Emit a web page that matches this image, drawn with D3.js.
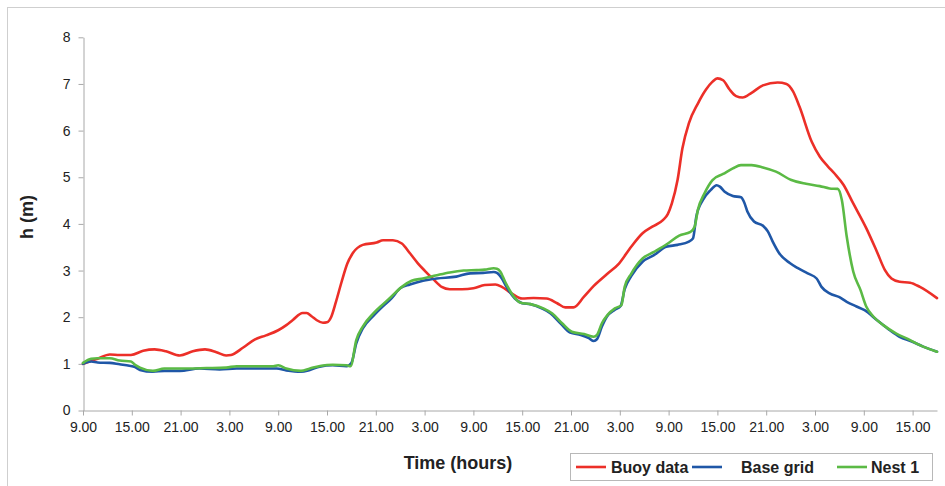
<!DOCTYPE html>
<html>
<head>
<meta charset="utf-8">
<script src="https://cdn.jsdelivr.net/npm/d3@7"></script>
<style>
  html, body { margin: 0; padding: 0; background: #fff; }
  svg { display: block; }
  text { font-family: "Liberation Sans", Arial, sans-serif; }
</style>
</head>
<body>
<svg id="chart" width="945" height="486"></svg>
<script>
// ---- data (hours since 9.00 on day 1, wave height h in m) ----
const buoyHours  = [0,0.8,1.8,3.3,4.5,5.9,7.4,8.8,10.2,11.9,13.5,15,16.4,17.6,18.2,19.7,21.1,22.5,24,25,25.8,27,27.5,28.1,28.7,29.5,30,30.5,31.1,31.8,32.5,33.2,34.4,36.1,36.9,38.1,39.2,40.2,41.2,42,43.1,44.1,45.1,46.6,48,49.4,50.7,51.5,52.7,54,55.4,57,58.3,59.3,60.3,61.6,62.8,64.4,65.9,67.4,68.8,70,71.3,71.9,72.4,73.1,73.7,74.5,75.6,76.6,77.4,78,78.7,79.5,80.3,81.1,82.2,83.6,85.4,86.5,87.3,88.1,89.6,90.6,91.6,92.4,93.5,94.7,96.3,97.6,98.6,99.4,100.4,101.7,102.9,105];
const buoyValues = [1.0,1.05,1.11,1.2,1.19,1.19,1.28,1.31,1.27,1.18,1.27,1.31,1.25,1.18,1.19,1.35,1.52,1.61,1.72,1.83,1.94,2.09,2.09,2.02,1.94,1.88,1.89,2.0,2.33,2.76,3.15,3.38,3.55,3.6,3.65,3.65,3.58,3.37,3.15,3.0,2.81,2.65,2.6,2.6,2.62,2.69,2.7,2.65,2.51,2.4,2.41,2.4,2.3,2.21,2.21,2.44,2.67,2.92,3.15,3.51,3.8,3.94,4.08,4.21,4.44,4.94,5.62,6.16,6.58,6.88,7.05,7.12,7.08,6.88,6.74,6.71,6.81,6.97,7.03,7.0,6.84,6.51,5.76,5.44,5.23,5.08,4.84,4.44,3.91,3.41,3.01,2.83,2.76,2.74,2.65,2.41];

const baseHours  = [0,1,1.8,3.3,4.5,5.7,6.4,7,8.6,10,11.9,14.3,16.8,18.9,21.3,23.8,25,26.8,27.9,29.1,30.7,32.4,33,33.6,34.4,35.7,36.9,37.9,39,40.2,41.8,43.5,45.9,47.6,49.2,50.5,50.9,51.5,52.1,53.1,54,55,56.4,57.5,58.7,59.9,61.2,62.2,62.8,63.2,63.8,64.4,65.4,66.1,66.6,67.4,68.8,70.2,71.7,73.1,74.5,75,75.4,76.2,77.2,77.9,78.3,78.9,79.9,80.9,81.3,81.7,82.5,83.6,84.2,84.8,85.6,86.9,87.9,89.1,90.2,90.8,91.8,93,93.9,95.1,96.1,97.6,99.2,100.4,101.9,103.3,105];
const baseValues = [1.0,1.05,1.03,1.02,0.99,0.96,0.93,0.87,0.83,0.85,0.85,0.9,0.88,0.9,0.9,0.9,0.86,0.83,0.87,0.94,0.97,0.95,1.02,1.44,1.76,2.03,2.24,2.4,2.62,2.7,2.78,2.83,2.87,2.94,2.95,2.97,2.95,2.83,2.64,2.4,2.3,2.28,2.19,2.08,1.87,1.67,1.62,1.55,1.49,1.53,1.8,2.01,2.16,2.24,2.6,2.88,3.19,3.33,3.51,3.55,3.62,3.69,4.15,4.51,4.73,4.83,4.8,4.69,4.6,4.57,4.46,4.26,4.05,3.96,3.84,3.62,3.37,3.16,3.05,2.94,2.83,2.65,2.51,2.43,2.33,2.23,2.15,1.94,1.72,1.58,1.48,1.37,1.26];

const nestHours  = [0,1,1.8,3.3,4.5,5.9,6.4,7,8.6,10,11.9,15.2,17.6,18.9,21.3,23.4,24,25,26.8,27.9,29.3,30.7,32.4,32.9,33.6,34.4,35.7,36.9,37.9,39.2,40.4,41.8,43.5,45.1,46.8,48.4,49.4,50.5,50.9,51.3,51.9,52.7,53.8,55,56.6,57.7,58.9,60.1,61.6,62.8,63.2,63.8,64.5,65.4,66.2,66.6,67.4,68.8,70.2,71.9,73.3,74.7,75.2,75.6,76.4,77.4,78.7,79.9,80.9,82.2,83.6,85.2,87.1,88.9,90.6,91.8,92.8,93.3,93.9,94.7,95.6,96.3,97.2,98.4,100,101.7,102.9,105];
const nestValues = [1.02,1.11,1.12,1.12,1.07,1.05,0.98,0.92,0.85,0.9,0.9,0.91,0.92,0.95,0.95,0.95,0.97,0.9,0.85,0.9,0.96,0.98,0.97,0.95,1.51,1.8,2.08,2.28,2.44,2.65,2.78,2.83,2.9,2.96,3.0,3.01,3.02,3.05,3.04,2.98,2.76,2.51,2.31,2.28,2.19,2.08,1.87,1.69,1.64,1.58,1.62,1.87,2.05,2.19,2.26,2.65,2.93,3.26,3.4,3.58,3.75,3.83,3.94,4.3,4.65,4.94,5.07,5.19,5.26,5.26,5.21,5.12,4.94,4.86,4.81,4.76,4.75,4.51,3.73,2.98,2.58,2.23,2.01,1.83,1.65,1.51,1.4,1.26];

const xTickHours  = [0,6,12,18,24,30,36,42,48,54,60,66,72,78,84,90,96,102];
const xTickLabels = ["9.00","15.00","21.00","3.00","9.00","15.00","21.00","3.00","9.00","15.00","21.00","3.00","9.00","15.00","21.00","3.00","9.00","15.00"];
const yTicks = [0,1,2,3,4,5,6,7,8];

const seriesNames  = ["Buoy data","Base grid","Nest 1"];
const seriesColors = ["#ec2f28","#1f57a7","#5bba45"];

// ---- drawing ----
const svg = d3.select("#chart");
const x = d3.scaleLinear().domain([0, 105]).range([83, 937]);
const y = d3.scaleLinear().domain([0, 8]).range([410.5, 37.3]);

// outer frame
svg.append("rect").attr("x", 7.5).attr("y", 7.5).attr("width", 960).attr("height", 520)
  .attr("fill", "none").attr("stroke", "#cfcfcf").attr("stroke-width", 1);

const axisColor = "#a8a8a8";

const xAxis = d3.axisBottom(x).tickValues(xTickHours)
  .tickFormat((d, i) => xTickLabels[i]).tickSizeInner(5).tickSizeOuter(0).tickPadding(7);
const gx = svg.append("g").attr("transform", "translate(0,410.5)").call(xAxis);
gx.select(".domain").attr("stroke", axisColor);
gx.selectAll(".tick line").attr("stroke", axisColor);
gx.selectAll("text").attr("font-size", 14).attr("fill", "#222")
  .attr("font-family", "'Liberation Sans', Arial, sans-serif");

const yAxis = d3.axisLeft(y).tickValues(yTicks).tickFormat(d3.format("d"))
  .tickSizeInner(5).tickSizeOuter(0).tickPadding(8);
const gy = svg.append("g").attr("transform", "translate(83.5,0)").call(yAxis);
gy.select(".domain").attr("stroke", axisColor);
gy.selectAll(".tick line").attr("stroke", axisColor);
gy.selectAll("text").attr("font-size", 14).attr("fill", "#222")
  .attr("font-family", "'Liberation Sans', Arial, sans-serif");

// lines
const line = d3.line().x(d => x(d[0])).y(d => y(d[1])).curve(d3.curveMonotoneX);
const allSeries = [
  d3.zip(buoyHours, buoyValues),
  d3.zip(baseHours, baseValues),
  d3.zip(nestHours, nestValues)
];
allSeries.forEach((s, i) => {
  svg.append("path").datum(s).attr("d", line)
    .attr("fill", "none").attr("stroke", seriesColors[i])
    .attr("stroke-width", 2.6).attr("stroke-linejoin", "round").attr("stroke-linecap", "round");
});

// axis titles
svg.append("text").attr("transform", "translate(33,217) rotate(-90)")
  .attr("text-anchor", "middle").attr("font-size", 18).attr("font-weight", "bold")
  .attr("fill", "#222").text("h (m)");
svg.append("text").attr("x", 458).attr("y", 469)
  .attr("text-anchor", "middle").attr("font-size", 18).attr("font-weight", "bold")
  .attr("fill", "#222").text("Time (hours)");

// legend
const lg = svg.append("g");
lg.append("rect").attr("x", 570.5).attr("y", 453.5).attr("width", 362).attr("height", 27)
  .attr("fill", "#fff").attr("stroke", "#b8b8b8").attr("stroke-width", 1);
const legLineX  = [576, 692, 837];
const legTextX  = [611, 741, 871];
seriesNames.forEach((name, i) => {
  lg.append("line").attr("x1", legLineX[i]).attr("x2", legLineX[i] + 30)
    .attr("y1", 467).attr("y2", 467).attr("stroke", seriesColors[i]).attr("stroke-width", 2.6);
  lg.append("text").attr("x", legTextX[i]).attr("y", 473)
    .attr("font-size", 16).attr("font-weight", "bold").attr("fill", "#222").text(name);
});
</script>
</body>
</html>
